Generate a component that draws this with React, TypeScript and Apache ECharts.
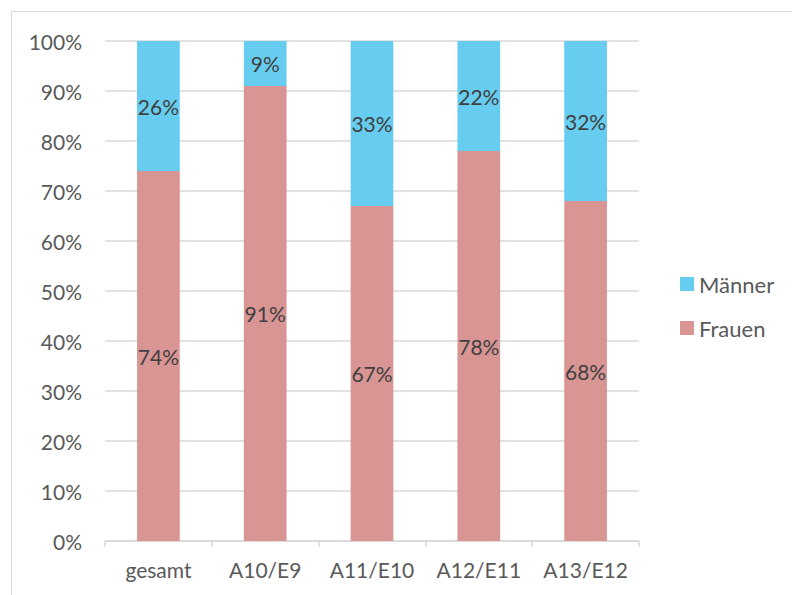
import React, { useEffect, useRef } from "react";
import * as echarts from "echarts";

const categories = ["gesamt", "A10/E9", "A11/E10", "A12/E11", "A13/E12"];
const frauen = [74, 91, 67, 78, 68];
const maenner = [26, 9, 33, 22, 32];
const yTicks = [0, 10, 20, 30, 40, 50, 60, 70, 80, 90, 100];

const FONT = "Lato, 'Liberation Sans', sans-serif";

export default function App() {
  const ref = useRef<HTMLDivElement>(null);
  useEffect(() => {
    if (!ref.current) return;
    const chart = echarts.init(ref.current, undefined, { renderer: "svg" });
    const labelStyle = {
      show: true,
      position: "inside" as const,
      formatter: (p: any) => p.value + "%",
      color: "#404040",
      fontSize: 21,
      fontFamily: FONT,
    };
    chart.setOption({
      animation: false,
      backgroundColor: "#ffffff",
      textStyle: { fontFamily: FONT },
      graphic: [
        {
          type: "rect",
          shape: { x: 11.5, y: 11.5, width: 800, height: 600 },
          style: { fill: "none", stroke: "#D9D9D9", lineWidth: 1 },
          silent: true,
        },
      ],
      grid: { left: 105, right: 153, top: 41, bottom: 54, containLabel: false },
      legend: {
        orient: "vertical",
        left: 680,
        top: 273,
        padding: 0,
        itemWidth: 14,
        itemHeight: 14,
        itemGap: 22,
        icon: "rect",
        data: ["Männer", "Frauen"],
        textStyle: { fontSize: 22, color: "#595959", fontFamily: FONT },
      },
      xAxis: {
        type: "category",
        data: categories,
        axisLine: { show: true, lineStyle: { color: "#D9D9D9", width: 1.5 } },
        axisTick: { show: true, interval: 0, alignWithLabel: false, length: 6, lineStyle: { color: "#D9D9D9", width: 1.5 } },
        axisLabel: { color: "#595959", fontSize: 21, margin: 18, interval: 0, fontFamily: FONT },
      },
      yAxis: {
        type: "value",
        min: 0,
        max: 100,
        interval: 10,
        axisLine: { show: false },
        axisTick: { show: false },
        splitLine: { show: true, lineStyle: { color: "#D9D9D9", width: 1.5 } },
        axisLabel: {
          color: "#595959",
          fontSize: 21,
          margin: 23,
          fontFamily: FONT,
          formatter: (v: number) => (yTicks.includes(v) ? v + "%" : ""),
        },
      },
      series: [
        {
          name: "Frauen",
          type: "bar",
          stack: "total",
          data: frauen,
          barWidth: "40%",
          itemStyle: { color: "#D99594" },
          label: labelStyle,
        },
        {
          name: "Männer",
          type: "bar",
          stack: "total",
          data: maenner,
          barWidth: "40%",
          itemStyle: { color: "#66CDF0" },
          label: labelStyle,
        },
      ],
    });
    return () => chart.dispose();
  }, []);
  return <div ref={ref} style={{ width: 792, height: 595, position: "absolute", left: 0, top: 0 }} />;
}
